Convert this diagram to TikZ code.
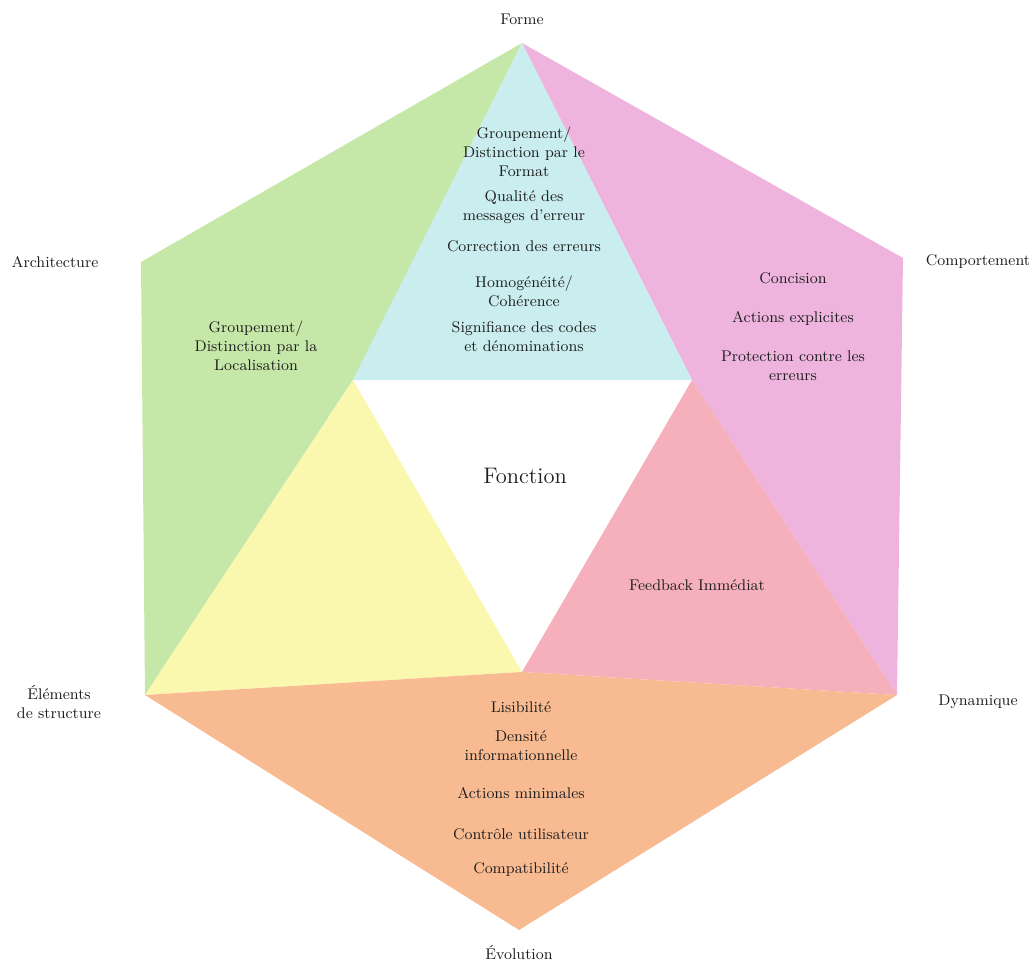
\documentclass[tikz,border=0pt]{standalone}
\usepackage{fontspec}
\definecolor{cgreen}{HTML}{C5E8A9}
\definecolor{cblue}{HTML}{CAEDF0}
\definecolor{cmag}{HTML}{EEB4DE}
\definecolor{cpink}{HTML}{F6B0BC}
\definecolor{cyellow}{HTML}{FAF7AF}
\definecolor{corange}{HTML}{F8BB91}
\definecolor{ctext}{HTML}{1E1E1E}
\begin{document}
\begin{tikzpicture}[x=0.02cm,y=-0.02cm,
  lbl/.style={align=center,text=ctext,font=\fontsize{8.8}{10.8}\selectfont,inner sep=0pt},
  big/.style={text=ctext,font=\fontsize{12.8}{14}\selectfont,inner sep=0pt}]
\useasboundingbox (0,0) rectangle (1035,963);
% vertices
\coordinate (F) at (522,43);
\coordinate (A) at (141,262);
\coordinate (C) at (903,258);
\coordinate (E) at (145,695);
\coordinate (D) at (897,695);
\coordinate (V) at (519,930);
\coordinate (L) at (353,380);
\coordinate (R) at (692,380);
\coordinate (B) at (522,672);
% regions
\fill[cgreen] (F) -- (A) -- (E) -- (L) -- cycle;
\fill[cmag] (F) -- (C) -- (D) -- (R) -- cycle;
\fill[cblue] (F) -- (L) -- (R) -- cycle;
\fill[cyellow] (L) -- (E) -- (B) -- cycle;
\fill[cpink] (R) -- (B) -- (D) -- cycle;
\fill[corange] (E) -- (B) -- (D) -- (V) -- cycle;
% outer labels
\node[lbl] (tF) at (522,19) {Forme};
\node[lbl] (tA) at (55,262) {Architecture};
\node[lbl] (tC) at (978,262) {Comportement};
\node[lbl] (tE) at (59,702) {Éléments\\de structure};
\node[lbl] (tD) at (978,702) {Dynamique};
\node[lbl] (tV) at (519,953) {Évolution};
% centre
\node[big] (tFn) at (525,476) {Fonction};
% blue
\node[lbl] (b1) at (524,152) {Groupement/\\Distinction par le\\Format};
\node[lbl] (b2) at (524,207) {Qualité des\\messages d’erreur};
\node[lbl] (b3) at (524,246) {Correction des erreurs};
\node[lbl] (b4) at (524,291) {Homogénéité/\\Cohérence};
\node[lbl] (b5) at (524,337) {Signifiance des codes\\et dénominations};
% green
\node[lbl] (g1) at (256,346) {Groupement/\\Distinction par la\\Localisation};
% magenta
\node[lbl] (m1) at (793,278) {Concision};
\node[lbl] (m2) at (793,318) {Actions explicites};
\node[lbl] (m3) at (793,366) {Protection contre les\\erreurs};
% pink
\node[lbl] (p1) at (697,585) {Feedback Immédiat};
% orange
\node[lbl] (o1) at (521,707) {Lisibilité};
\node[lbl] (o2) at (521,746) {Densité\\informationnelle};
\node[lbl] (o3) at (521,793) {Actions minimales};
\node[lbl] (o4) at (521,834) {Contrôle utilisateur};
\node[lbl] (o5) at (521,870) {Compatibilité};
\end{tikzpicture}
\end{document}
